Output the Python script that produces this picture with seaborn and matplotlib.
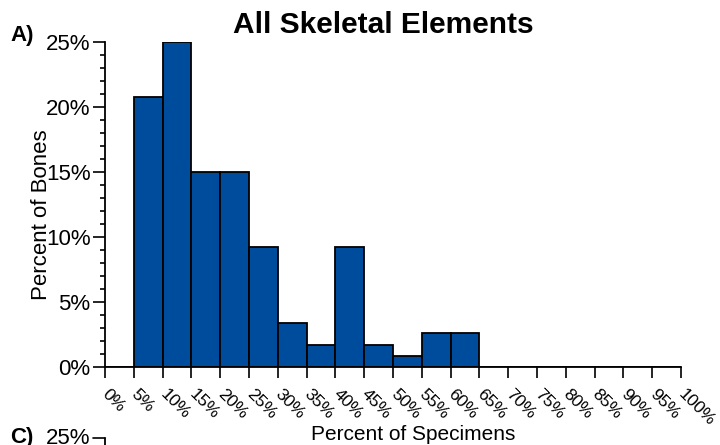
import numpy as np
import matplotlib
matplotlib.use("Agg")
import matplotlib.pyplot as plt
from matplotlib.lines import Line2D
from matplotlib.ticker import MultipleLocator
import seaborn as sns
import pandas as pd

# ---- data ----
bin_left = [5, 10, 15, 20, 25, 30, 35, 40, 45, 50, 55, 60]
pct_bones = [20.8, 25.0, 15.0, 15.0, 9.2, 3.4, 1.7, 9.2, 1.7, 0.85, 2.6, 2.6]
x_ticks = list(range(0, 101, 5))
y_ticks = [0, 5, 10, 15, 20, 25]
title = "All Skeletal Elements"
xlabel = "Percent of Specimens"
ylabel = "Percent of Bones"

sns.set_style("white")
plt.rcParams['font.family'] = ['Liberation Sans', 'DejaVu Sans']
plt.rcParams['text.color'] = 'black'
plt.rcParams['axes.labelcolor'] = 'black'
plt.rcParams['xtick.color'] = 'black'
plt.rcParams['ytick.color'] = 'black'

df = pd.DataFrame({"center": np.array(bin_left) + 2.5, "pct": pct_bones})

fig = plt.figure(figsize=(7.2, 4.45), dpi=100)
ax = fig.add_axes([105/720, 1-367/445, 576/720, 325/445])

sns.histplot(data=df, x="center", weights="pct", bins=x_ticks, ax=ax,
             color="#004C9C", alpha=1.0, edgecolor="black", linewidth=1.3)

ax.set_xlim(0, 100)
ax.set_ylim(0, 25)
ax.set_xticks(x_ticks)
ax.set_xticklabels([f"{v}%" for v in x_ticks], rotation=-45, ha="left",
                   va="center", rotation_mode="anchor", fontsize=12.5)
ax.set_yticks(y_ticks)
ax.set_yticklabels([f"{v}%" for v in y_ticks], fontsize=16)
ax.yaxis.set_minor_locator(MultipleLocator(1))

for s in ["top", "right"]:
    ax.spines[s].set_visible(False)
for s in ["left", "bottom"]:
    ax.spines[s].set_color("black")
    ax.spines[s].set_linewidth(1.3)

ax.tick_params(axis="y", which="major", direction="out", length=8.5, width=1.2,
               color="black", labelcolor="black", pad=2, left=True)
ax.tick_params(axis="y", which="minor", direction="out", length=3.8, width=1.2,
               color="black", left=True)
ax.tick_params(axis="x", which="major", direction="out", length=8, width=1.2,
               color="black", labelcolor="black", pad=10, bottom=True)
ax.grid(False)

ax.set_xlabel(xlabel, fontsize=15, color="black")
ax.xaxis.set_label_coords((413-105)/576, -(435-367)/325, transform=ax.transAxes)
ax.xaxis.label.set_va("center")
ax.set_ylabel(ylabel, fontsize=16, color="black")
ax.yaxis.set_label_coords(-(105-42)/576, (367-215)/325)
ax.yaxis.label.set_va("center")

fig.text(383/720, 1-25/445, title, fontsize=21.5, fontweight="bold",
         ha="center", va="center", color="black")
fig.text(10/720, 1-36/445, "A)", fontsize=16, fontweight="bold",
         ha="left", va="center", color="black")

# start of next panel (C)
fig.text(10/720, 1-437/445, "C)", fontsize=16, fontweight="bold",
         ha="left", va="center", color="black")
fig.text(90/720, 1-438/445, "25%", fontsize=16, ha="right", va="center",
         color="black")
fig.add_artist(Line2D([93/720, 105/720], [1-438/445, 1-438/445],
                      transform=fig.transFigure, color="black", lw=1.2))
fig.add_artist(Line2D([105/720, 105/720], [1-438/445, 0],
                      transform=fig.transFigure, color="black", lw=1.3))

fig.savefig("out.png", dpi=100)
